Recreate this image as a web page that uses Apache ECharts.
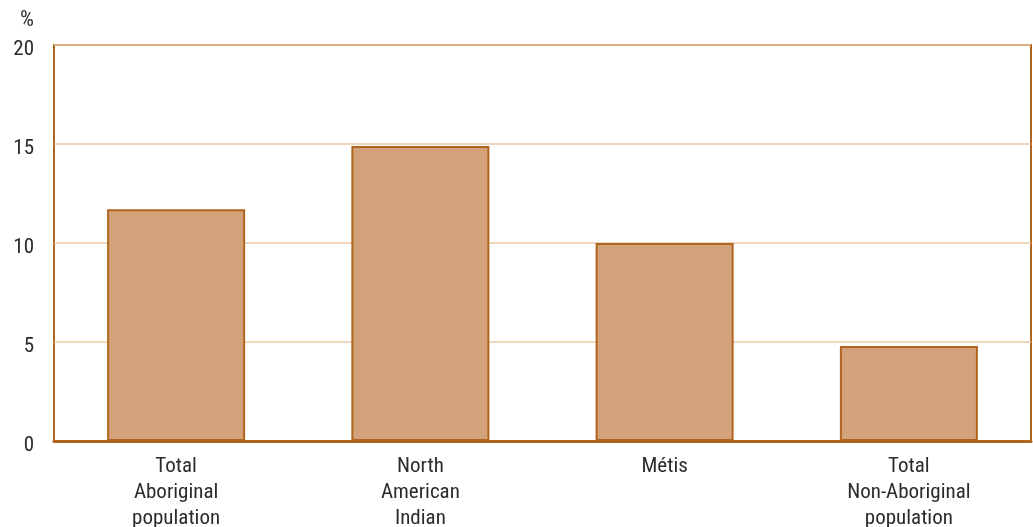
<!DOCTYPE html>
<html><head><meta charset="utf-8">
<script src="https://cdn.jsdelivr.net/npm/echarts@6/dist/echarts.min.js"></script>
<style>html,body{margin:0;padding:0;background:#fff}#c{width:1033px;height:527px}</style>
</head><body><div id="c"></div>
<script>
const categories = ["Total\nAboriginal\npopulation", "North\nAmerican\nIndian", "Métis", "Total\nNon-Aboriginal\npopulation"];
const values = [11.7, 14.9, 10.0, 4.8];
const yTicks = [0, 5, 10, 15, 20];
const FONT = "'Liberation Sans Narrow', 'Arial Narrow', 'Roboto Condensed', 'Liberation Sans', sans-serif";
const chart = echarts.init(document.getElementById('c'), null, {renderer: 'canvas'});
chart.setOption({
  animation: false,
  textStyle: {fontFamily: FONT},
  grid: {left: 54, right: 2, top: 45, bottom: 86, show: true, borderColor: '#B0651E', borderWidth: 2, backgroundColor: 'transparent', outerBoundsMode: 'none', containLabel: false},
  xAxis: {
    type: 'category', data: categories,
    axisLine: {lineStyle: {color: '#B0651E', width: 3}},
    axisTick: {show: false},
    axisLabel: {color: '#2b2b2b', fontSize: 21, lineHeight: 26, margin: 13, fontFamily: FONT}
  },
  yAxis: {
    type: 'value', min: yTicks[0], max: yTicks[yTicks.length - 1], interval: 5,
    name: '%', nameLocation: 'end', nameGap: 14,
    nameTextStyle: {color: '#2b2b2b', fontSize: 22, fontFamily: FONT, align: 'right', padding: [0, 20, 0, 0]},
    axisLine: {show: false}, axisTick: {show: false},
    axisLabel: {color: '#2b2b2b', fontSize: 21, margin: 20, fontFamily: FONT,
      formatter: '{a|{value}}',
      rich: {a: {fontSize: 21, fontFamily: FONT, color: '#2b2b2b', padding: [10, 0, 0, 0]}}},
    splitLine: {lineStyle: {color: '#EBC9A6', width: 1.5}}
  },
  series: [{
    type: 'bar', data: values, barWidth: '56.5%',
    itemStyle: {color: '#D4A27A', borderColor: '#B0651E', borderWidth: 2}
  }]
});
</script></body></html>
